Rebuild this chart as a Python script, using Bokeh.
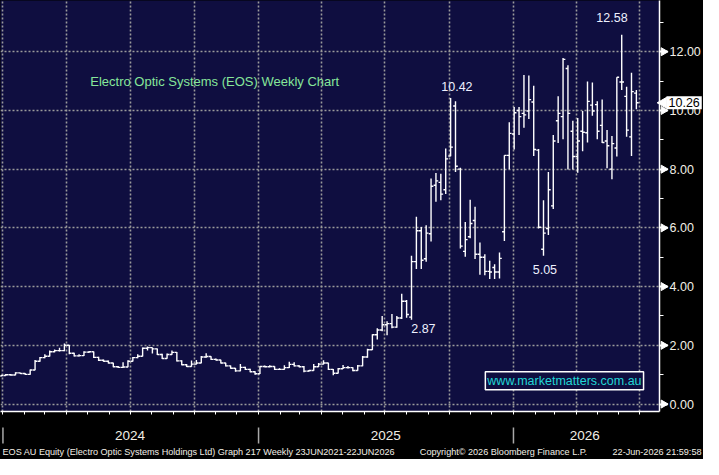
import math
import pandas as pd
from bokeh.plotting import figure
from bokeh.models import Range1d, FixedTicker, Label, CustomJSTickFormatter, ColumnDataSource
from bokeh.layouts import column
from bokeh.embed import file_html
from bokeh.resources import INLINE
from bokeh.core.properties import value

# ---------------- data (weekly OHLC, EOS) ----------------
first_week = "2023-12-29"
opens = [0.95, 0.97, 1.00, 0.99, 1.06, 1.04, 1.01, 1.16, 1.46, 1.58,
         1.63, 1.78, 1.82, 1.82, 2.00, 1.73, 1.64, 1.65, 1.77, 1.78,
         1.59, 1.49, 1.46, 1.40, 1.27, 1.25, 1.26, 1.46, 1.58, 1.63,
         1.90, 1.92, 1.88, 1.69, 1.55, 1.69, 1.76, 1.47, 1.34, 1.28,
         1.36, 1.40, 1.60, 1.62, 1.52, 1.50, 1.40, 1.30, 1.22, 1.13,
         1.25, 1.18, 1.10, 1.03, 1.28, 1.27, 1.28, 1.18, 1.18, 1.24,
         1.35, 1.30, 1.27, 1.12, 1.14, 1.27, 1.36, 1.40, 1.18, 1.05,
         1.20, 1.24, 1.24, 1.14, 1.30, 1.60, 1.85, 2.36, 2.52, 2.70,
         2.74, 2.62, 2.93, 3.50, 2.96, 4.85, 5.90, 4.95, 5.80, 7.45,
         7.55, 7.30, 8.45, 10.15, 8.00, 5.20, 5.70, 6.25, 5.10, 5.00,
         4.52, 4.65, 4.50, 5.87, 8.47, 9.20, 10.00, 9.90, 9.98, 10.29,
         8.65, 5.27, 5.98, 6.75, 9.65, 9.79, 11.43, 9.29, 8.43, 9.29,
         9.24, 10.18, 10.20, 9.49, 8.96, 8.00, 8.72, 10.97, 10.48, 9.10,
         10.59]
highs = [0.99, 1.02, 1.02, 1.08, 1.07, 1.05, 1.18, 1.50, 1.60, 1.70,
         1.82, 1.86, 1.92, 2.06, 2.01, 1.75, 1.70, 1.80, 1.80, 1.79,
         1.61, 1.52, 1.48, 1.41, 1.30, 1.42, 1.49, 1.60, 1.70, 1.93,
         1.96, 1.93, 1.89, 1.71, 1.72, 1.82, 1.77, 1.49, 1.36, 1.48,
         1.50, 1.64, 1.73, 1.63, 1.55, 1.51, 1.41, 1.31, 1.23, 1.36,
         1.27, 1.20, 1.12, 1.30, 1.31, 1.32, 1.29, 1.22, 1.32, 1.44,
         1.42, 1.33, 1.30, 1.16, 1.36, 1.40, 1.49, 1.41, 1.19, 1.23,
         1.33, 1.30, 1.25, 1.33, 1.64, 1.88, 2.38, 2.58, 3.00, 2.82,
         3.07, 3.00, 3.76, 3.54, 5.05, 6.38, 6.03, 6.09, 7.68, 7.87,
         7.84, 8.70, 10.42, 10.31, 8.05, 6.20, 6.96, 6.72, 5.50, 5.10,
         4.88, 4.76, 5.16, 8.47, 9.60, 10.12, 10.12, 11.21, 11.19, 10.84,
         8.69, 6.94, 7.90, 9.16, 10.48, 11.79, 11.54, 9.65, 9.74, 9.98,
         10.99, 10.95, 10.31, 10.37, 9.33, 9.13, 11.13, 12.58, 10.81, 11.28,
         10.70]
lows = [0.93, 0.96, 0.97, 0.98, 1.02, 0.99, 1.00, 1.15, 1.44, 1.56,
        1.62, 1.76, 1.79, 1.80, 1.70, 1.62, 1.62, 1.64, 1.74, 1.57,
        1.47, 1.44, 1.38, 1.25, 1.23, 1.24, 1.25, 1.45, 1.56, 1.62,
        1.82, 1.72, 1.67, 1.53, 1.54, 1.68, 1.45, 1.32, 1.26, 1.27,
        1.35, 1.39, 1.58, 1.50, 1.48, 1.38, 1.28, 1.20, 1.10, 1.12,
        1.16, 1.08, 1.00, 1.02, 1.25, 1.25, 1.16, 1.16, 1.17, 1.23,
        1.28, 1.25, 1.08, 1.10, 1.13, 1.26, 1.35, 1.16, 0.98, 1.04,
        1.19, 1.21, 1.12, 1.13, 1.29, 1.58, 1.84, 2.20, 2.48, 2.34,
        2.58, 2.60, 2.90, 2.94, 2.87, 4.60, 4.60, 4.85, 5.54, 6.89,
        6.94, 7.15, 8.44, 7.90, 5.30, 5.02, 5.65, 4.94, 4.40, 4.39,
        4.26, 4.26, 4.28, 5.55, 8.00, 8.67, 9.16, 9.41, 9.71, 8.45,
        5.98, 5.05, 5.76, 6.64, 8.89, 9.02, 7.99, 7.99, 7.88, 8.61,
        8.91, 9.82, 9.02, 8.89, 8.03, 7.66, 8.43, 10.70, 9.10, 8.45,
        10.04]
closes = [0.97, 1.00, 0.99, 1.06, 1.04, 1.01, 1.16, 1.46, 1.58, 1.63,
          1.78, 1.82, 1.82, 2.00, 1.73, 1.64, 1.65, 1.77, 1.78, 1.59,
          1.49, 1.46, 1.40, 1.27, 1.25, 1.26, 1.46, 1.58, 1.63, 1.90,
          1.92, 1.88, 1.69, 1.55, 1.69, 1.76, 1.47, 1.34, 1.28, 1.36,
          1.40, 1.60, 1.62, 1.52, 1.50, 1.40, 1.30, 1.22, 1.13, 1.25,
          1.18, 1.10, 1.03, 1.28, 1.27, 1.28, 1.18, 1.18, 1.24, 1.35,
          1.30, 1.27, 1.12, 1.14, 1.27, 1.36, 1.40, 1.18, 1.05, 1.20,
          1.24, 1.24, 1.14, 1.30, 1.60, 1.85, 2.36, 2.52, 2.70, 2.74,
          2.62, 2.93, 3.50, 3.05, 4.85, 5.90, 4.90, 5.82, 7.42, 7.60,
          7.15, 8.35, 8.75, 8.10, 5.38, 5.60, 6.15, 5.10, 5.00, 4.52,
          4.50, 4.50, 4.96, 8.47, 9.22, 9.92, 9.79, 9.85, 10.37, 8.67,
          6.02, 5.82, 7.30, 8.96, 9.90, 11.74, 9.90, 8.43, 8.96, 9.26,
          10.31, 9.98, 9.29, 8.91, 8.80, 8.87, 11.13, 10.97, 9.33, 10.64,
          10.26]

y_ticks = [0, 2, 4, 6, 8, 10, 12]
y_tick_labels = ["0.00", "2.00", "4.00", "6.00", "8.00", "10.00", "12.00"]
y_minor = [1, 3, 5, 7, 9, 11, 13]
month_starts = pd.date_range("2024-01-01", "2026-07-01", freq="MS")
quarter_starts = pd.date_range("2024-01-01", "2026-07-01", freq="QS")
year_starts = ["2024-01-01", "2025-01-01", "2026-01-01"]
year_labels = ["2024", "2025", "2026"]
year_label_pos = ["2024-07-01", "2025-07-02", "2026-04-13"]

callouts = ["12.58", "10.42", "5.05", "2.87"]
callout_x = ["2026-05-22", "2025-10-12", "2026-02-15", "2025-08-25"]
callout_y = [13.15, 10.81, 4.59, 2.58]

title_text = "Electro Optic Systems (EOS) Weekly Chart"
footer_left = "EOS AU Equity (Electro Optic Systems Holdings Ltd) Graph 217 Weekly 23JUN2021-22JUN2026"
footer_mid = "Copyright\u00a9 2026 Bloomberg Finance L.P."
footer_right = "22-Jun-2026 21:59:58"
watermark = "www.marketmatters.com.au"

# ---------------- styling ----------------
NAVY = "#0f0e40"
GRID = "#9a9a9a"
TXT = "#f2efe6"
FONT = "Liberation Sans"
W, H1, H2 = 703, 416, 43
RB = 44
FW = W - RB            # plotting frame width
SPAN = 943.6           # days shown across the frame

dates = pd.date_range(first_week, periods=len(closes), freq="7D")
tick = pd.Timedelta(days=3.3)
src = ColumnDataSource(dict(x=dates, xl=dates - tick, xr=dates + tick,
                            o=opens, h=highs, l=lows, c=closes))

x_start = pd.Timestamp("2023-12-28 12:00")
x_end = x_start + pd.Timedelta(days=SPAN)
xr = Range1d(x_start, x_end)

def ms(d):
    return pd.Timestamp(d).value // 10**6

def px_date(px):
    return x_start + pd.Timedelta(days=SPAN * px / FW)

p = figure(width=W, height=H1, x_axis_type="datetime", y_axis_location="right",
           x_range=xr, y_range=Range1d(-0.254, 13.745),
           output_backend="svg", toolbar_location=None,
           min_border_left=0, min_border_right=RB, min_border_top=0, min_border_bottom=5)
p.background_fill_color = NAVY
p.border_fill_color = "black"
p.outline_line_color = None

# grid
p.ygrid.ticker = FixedTicker(ticks=y_ticks)
p.xgrid.ticker = FixedTicker(ticks=[ms(d) for d in quarter_starts])
for g in (p.xgrid, p.ygrid):
    g.grid_line_color = GRID
    g.grid_line_dash = "2 2"
    g.grid_line_width = 1.6

# right price axis
ya = p.yaxis[0]
ya.ticker = FixedTicker(ticks=y_ticks, minor_ticks=y_minor)
ya.major_label_overrides = {t: s for t, s in zip(y_ticks, y_tick_labels)}
ya.axis_line_color = "white"
ya.axis_line_width = 1.5
ya.major_tick_line_color = "white"
ya.major_tick_line_width = 2
ya.major_tick_out = 8
ya.major_tick_in = 0
ya.minor_tick_line_color = "white"
ya.minor_tick_out = 4
ya.minor_tick_in = 0
ya.major_label_standoff = 2
ya.major_label_text_color = TXT
ya.major_label_text_font = FONT
ya.major_label_text_font_size = "12.5px"

# bottom month-tick axis
xa = p.xaxis[0]
xa.ticker = FixedTicker(ticks=[ms(d) for d in month_starts])
xa.formatter = CustomJSTickFormatter(code="return ''")
xa.axis_line_color = "white"
xa.axis_line_width = 1.5
xa.major_tick_line_color = "white"
xa.major_tick_out = 3
xa.major_tick_in = 0
xa.minor_tick_line_color = None
xa.major_label_standoff = 0

# OHLC bars
p.segment(x0="x", y0="l", x1="x", y1="h", source=src, line_color="white", line_width=1.4)
p.segment(x0="xl", y0="o", x1="x", y1="o", source=src, line_color="white", line_width=1.4)
p.segment(x0="x", y0="c", x1="xr", y1="c", source=src, line_color="white", line_width=1.4)

# texts inside plot
p.add_layout(Label(x=pd.Timestamp("2024-05-05"), y=10.97, text=title_text,
                   text_color="#86e69a", text_font=FONT, text_font_size="13px",
                   text_baseline="middle", text_align="left"))
for t, cx, cy in zip(callouts, callout_x, callout_y):
    p.add_layout(Label(x=pd.Timestamp(cx), y=cy, text=t, text_color="#eef0ff",
                       text_font=FONT, text_font_size="12.5px",
                       text_align="center", text_baseline="middle"))
p.add_layout(Label(x=pd.Timestamp("2026-03-15"), y=0.79, text=watermark,
                   text_color="#22d6d6", text_font=FONT, text_font_size="12.5px",
                   text_align="center", text_baseline="middle",
                   border_line_color="white", border_line_width=1.5,
                   background_fill_color=NAVY, padding=2))

# axis tick arrows and last-price tag, drawn on the overlay level beyond the frame
p.scatter(x=[px_date(FW + 4)] * len(y_ticks), y=y_ticks, marker="triangle", size=8,
          angle=-math.pi / 2, fill_color="white", line_color="white", level="overlay")
p.scatter(x=[px_date(FW + 4)], y=[closes[-1]], marker="triangle", size=11,
          angle=math.pi / 2, fill_color="white", line_color="white", level="overlay")
p.text(x=[px_date(FW + 7)], y=[closes[-1]], text=[f"{closes[-1]:.2f}"],
       text_color="black", text_font=value(FONT), text_font_size="12.5px",
       text_align="left", text_baseline="middle",
       background_fill_color="white", padding=2, level="overlay")

# ---------------- bottom strip (years + footer) ----------------
q = figure(width=W, height=H2, x_range=xr, y_range=Range1d(0, H2),
           output_backend="svg", toolbar_location=None,
           x_axis_location=None, y_axis_location=None,
           min_border_left=0, min_border_right=RB, min_border_top=0, min_border_bottom=0)
q.background_fill_color = "black"
q.border_fill_color = "black"
q.outline_line_color = None
q.xgrid.visible = False
q.ygrid.visible = False
ys = [pd.Timestamp(d) for d in year_starts]
q.segment(x0=ys, y0=[16] * len(ys), x1=ys, y1=[32] * len(ys), line_color="#a8a8a8", line_width=1.5)
q.text(x=[pd.Timestamp(d) for d in year_label_pos], y=[24] * 3, text=year_labels,
       text_color=TXT, text_font=value(FONT), text_font_size="13.5px",
       text_align="center", text_baseline="middle")
q.text(x=[px_date(2), px_date(503), px_date(701)], y=[8, 8, 8],
       text=[footer_left, footer_mid, footer_right],
       text_align=["left", "center", "right"],
       text_color=TXT, text_font=value(FONT), text_font_size="9.1px",
       text_baseline="middle", level="overlay")

layout = column(p, q, spacing=0)
layout.styles = {"background-color": "black"}
open("out.html", "w").write(file_html(layout, INLINE))
